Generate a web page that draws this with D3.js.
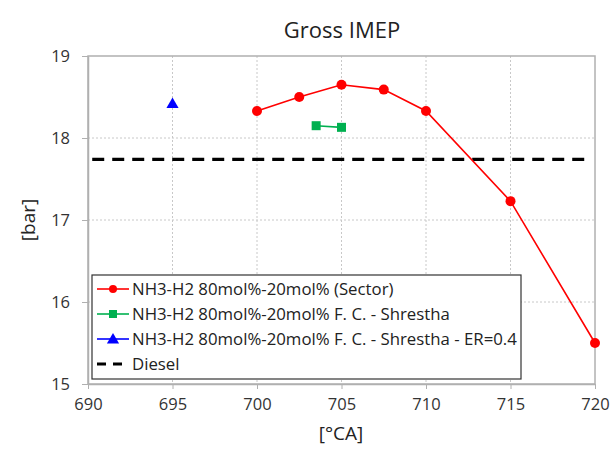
<!DOCTYPE html>
<html><head><meta charset="utf-8">
<script src="https://cdn.jsdelivr.net/npm/d3@7"></script>
<style>body{margin:0;background:#fff}</style>
</head><body>
<svg id="c" width="614" height="450"></svg>
<script>
const sectorX = [700, 702.5, 705, 707.5, 710, 715, 720];
const sectorY = [18.33, 18.5, 18.65, 18.59, 18.33, 17.23, 15.5];
const fcX = [703.5, 705];
const fcY = [18.15, 18.13];
const erX = [695];
const erY = [18.42];
const dieselY = 17.74;
const xTicks = [690, 695, 700, 705, 710, 715, 720];
const yTicks = [15, 16, 17, 18, 19];
const legendLabels = [
  "NH3-H2 80mol%-20mol% (Sector)",
  "NH3-H2 80mol%-20mol% F. C. - Shrestha",
  "NH3-H2 80mol%-20mol% F. C. - Shrestha - ER=0.4",
  "Diesel"
];
const colors = ["#ff0000", "#00b050", "#0000ff", "#000000"];

const font = "'Open Sans', 'Noto Sans', sans-serif";
const svg = d3.select("#c");
const L = 88, R = 595, T = 56, B = 384;
const x = d3.scaleLinear().domain([690, 720]).range([L, R]);
const y = d3.scaleLinear().domain([15, 19]).range([B, T]);

// gridlines
const g = svg.append("g");
g.selectAll(".gx").data(xTicks.slice(1, -1)).enter().append("line")
  .attr("x1", d => x(d)).attr("x2", d => x(d)).attr("y1", T).attr("y2", B)
  .attr("stroke", "#c8c8c8").attr("stroke-dasharray", "2,2").attr("stroke-width", 1);
g.selectAll(".gy").data(yTicks.slice(1, -1)).enter().append("line")
  .attr("y1", d => y(d)).attr("y2", d => y(d)).attr("x1", L).attr("x2", R)
  .attr("stroke", "#c8c8c8").attr("stroke-dasharray", "2,2").attr("stroke-width", 1);

// frame
svg.append("rect").attr("x", L).attr("y", T).attr("width", R - L).attr("height", B - T)
  .attr("fill", "none").attr("stroke", "#b0b0b0").attr("stroke-width", 1.5);

// axes
const xa = svg.append("g").attr("transform", `translate(0,${B})`)
  .call(d3.axisBottom(x).tickValues(xTicks).tickFormat(d3.format("d")).tickSize(5).tickSizeOuter(0).tickPadding(9));
const ya = svg.append("g").attr("transform", `translate(${L},0)`)
  .call(d3.axisLeft(y).tickValues(yTicks).tickFormat(d3.format("d")).tickSize(6).tickSizeOuter(0).tickPadding(12));
[xa, ya].forEach(a => {
  a.select(".domain").attr("stroke", "#b0b0b0").attr("stroke-width", 1.5);
  a.selectAll(".tick line").attr("stroke", "#b0b0b0");
  a.selectAll("text").attr("font-family", font).attr("font-size", 16.5).attr("fill", "#333");
});

// diesel
svg.append("line").attr("x1", x(690.25)).attr("x2", x(719.6))
  .attr("y1", y(dieselY)).attr("y2", y(dieselY))
  .attr("stroke", "#000").attr("stroke-width", 3.2).attr("stroke-dasharray", "12,8");

const line = d3.line().x(d => x(d[0])).y(d => y(d[1]));
const sector = sectorX.map((v, i) => [v, sectorY[i]]);
const fc = fcX.map((v, i) => [v, fcY[i]]);
const er = erX.map((v, i) => [v, erY[i]]);

svg.append("path").datum(sector).attr("d", line).attr("fill", "none").attr("stroke", colors[0]).attr("stroke-width", 1.6);
svg.selectAll(".s").data(sector).enter().append("circle")
  .attr("cx", d => x(d[0])).attr("cy", d => y(d[1])).attr("r", 5).attr("fill", colors[0]);

svg.append("path").datum(fc).attr("d", line).attr("fill", "none").attr("stroke", colors[1]).attr("stroke-width", 1.6);
svg.selectAll(".f").data(fc).enter().append("rect")
  .attr("x", d => x(d[0]) - 4.5).attr("y", d => y(d[1]) - 4.5).attr("width", 9).attr("height", 9).attr("fill", colors[1]);

const tri = d3.symbol().type(d3.symbolTriangle).size(64);
svg.selectAll(".e").data(er).enter().append("path")
  .attr("d", tri).attr("transform", d => `translate(${x(d[0])},${y(d[1]) + 1})`).attr("fill", colors[2]);

// title & axis labels
svg.append("text").attr("x", 342).attr("y", 38).attr("text-anchor", "middle")
  .attr("font-family", font).attr("font-size", 22).attr("fill", "#222").text("Gross IMEP");
svg.append("text").attr("x", 341).attr("y", 440).attr("text-anchor", "middle")
  .attr("font-family", font).attr("font-size", 19).attr("fill", "#222").text("[°CA]");
svg.append("text").attr("transform", "translate(35,220) rotate(-90)").attr("text-anchor", "middle")
  .attr("font-family", font).attr("font-size", 19).attr("fill", "#222").text("[bar]");

// legend
const lg = svg.append("g");
lg.append("rect").attr("x", 92).attr("y", 275).attr("width", 429).attr("height", 104)
  .attr("fill", "#fff").attr("stroke", "#333").attr("stroke-width", 1.2);
legendLabels.forEach((lab, i) => {
  const yy = 289 + i * 25;
  const c = colors[i];
  if (i < 3) {
    lg.append("line").attr("x1", 97).attr("x2", 129).attr("y1", yy).attr("y2", yy).attr("stroke", c).attr("stroke-width", 1.6);
  } else {
    lg.append("line").attr("x1", 97).attr("x2", 129).attr("y1", yy).attr("y2", yy).attr("stroke", c).attr("stroke-width", 3).attr("stroke-dasharray", "9,7");
  }
  if (i === 0) lg.append("circle").attr("cx", 113).attr("cy", yy).attr("r", 4).attr("fill", c);
  if (i === 1) lg.append("rect").attr("x", 109).attr("y", yy - 4).attr("width", 8).attr("height", 8).attr("fill", c);
  if (i === 2) lg.append("path").attr("d", tri).attr("transform", `translate(113,${yy + 1})`).attr("fill", c);
  lg.append("text").attr("x", 132).attr("y", yy + 6).attr("font-family", font).attr("font-size", 16.8)
    .attr("fill", "#222").text(lab);
});
</script>
</body></html>
